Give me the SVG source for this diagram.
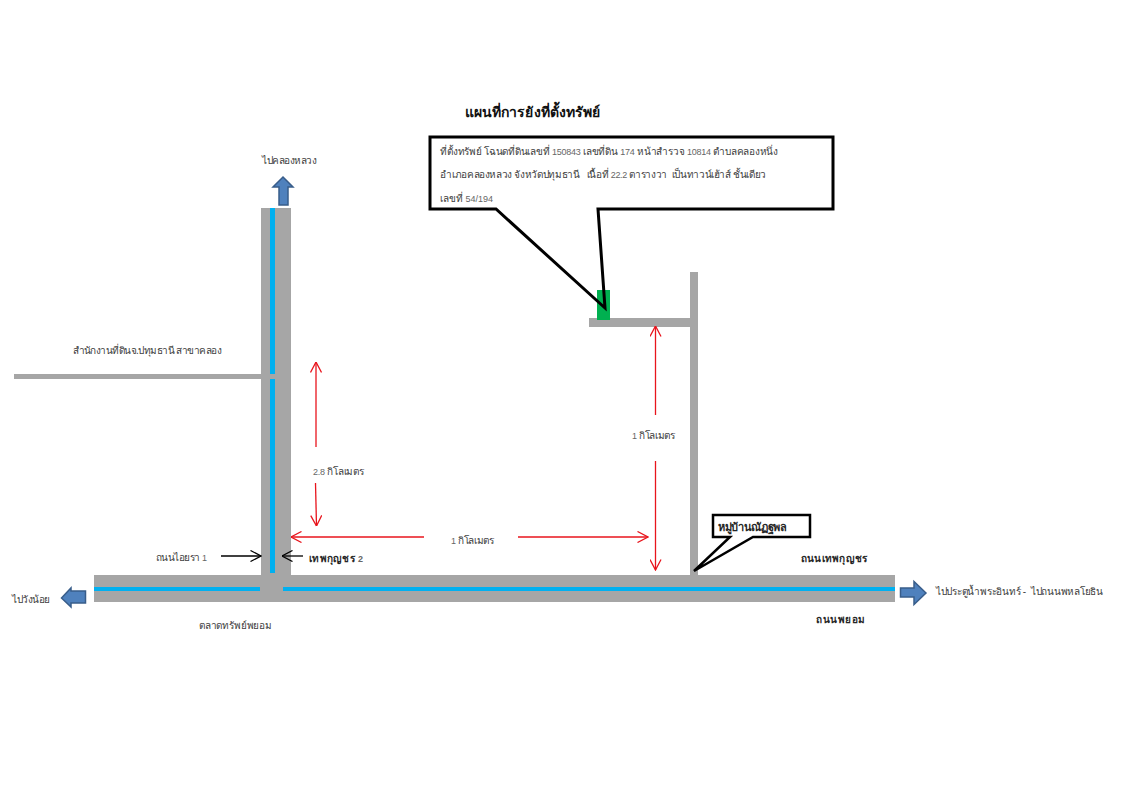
<svg xmlns="http://www.w3.org/2000/svg" width="1132" height="800" viewBox="0 0 1132 800">
<style>
text{font-family:"Liberation Sans","Noto Sans",sans-serif;font-size:10px;fill:#404040}
.b{font-weight:bold;fill:#262626}
.n{font-size:9px;fill:#666}
.t{font-family:"Liberation Serif","Noto Sans",serif;font-size:14px;font-weight:bold;fill:#111}
.road{fill:#a6a6a6}
.water{fill:#00b0f0}
.dir{fill:#4f81bd;stroke:#385d8a;stroke-width:1.5}
.callfill{fill:#fff}
.call{fill:none;stroke:#000;stroke-width:3;stroke-linejoin:miter}
.red{fill:none;stroke:#e8141c;stroke-width:1.3;marker-end:url(#rh)}
.blk{fill:none;stroke:#000;stroke-width:1.3;marker-end:url(#kh)}
</style>
<defs>
<marker id="rh" viewBox="0 0 12 12" refX="11.500" refY="6" markerWidth="12" markerHeight="12" markerUnits="userSpaceOnUse" orient="auto"><path d="M1 .5L11.500 6L1 11.500" fill="none" stroke="#e8141c" stroke-width="1.300"/></marker>
<marker id="kh" viewBox="0 0 12 12" refX="11.500" refY="6" markerWidth="12" markerHeight="12" markerUnits="userSpaceOnUse" orient="auto"><path d="M1 .5L11.500 6L1 11.500" fill="none" stroke="#000" stroke-width="1.300"/></marker>
<path id="bubble" d="M430 137H833V209H598L605 308L496 209H430Z"/>
</defs>
<g id="roads">
<rect class="road" x="261" y="208" width="30" height="368"/>
<rect class="road" x="94" y="575" width="801" height="27"/>
<rect class="road" x="14" y="374" width="248" height="5"/>
<rect class="road" x="690" y="272" width="8" height="304"/>
<rect class="road" x="589" y="318" width="102" height="9"/>
<rect class="water" x="270" y="208" width="5" height="166"/>
<rect class="water" x="270" y="379" width="5" height="194"/>
<rect class="water" x="94" y="587" width="166" height="4"/>
<rect class="water" x="283" y="587" width="612" height="4"/>
</g>
<g id="direction-arrows">
<path class="dir" d="M283 177L293 187H288V205H279V187H273Z"/>
<path class="dir" d="M61.500 598L71 588V591H85.500V603H71V607Z"/>
<path class="dir" d="M926 593L914 581.500V588H900.500V597H914V604.500Z"/>
</g>
<g id="connectors">
<path class="red" d="M316 447V362"/>
<path class="red" d="M315.500 483L316.500 526"/>
<path class="red" d="M424 537H291"/>
<path class="red" d="M518 537H648"/>
<path class="red" d="M655.500 415V326"/>
<path class="red" d="M655.500 461V570"/>
<path class="blk" d="M221 556H261"/>
<path class="blk" d="M303 556H282"/>
</g>
<g id="callout-property">
<use href="#bubble" class="callfill"/>
<rect id="property" x="597" y="290" width="13" height="30" fill="#00b050"/>
<use href="#bubble" class="call"/>
<text x="440" y="155" textLength="338">ที่ตั้งทรัพย์ โฉนดที่ดินเลขที่ <tspan class="n">150843</tspan> เลขที่ดิน <tspan class="n">174</tspan> หน้าสำรวจ <tspan class="n">10814</tspan> ตำบลคลองหนึ่ง</text>
<text x="440" y="178" textLength="326">อำเภอคลองหลวง จังหวัดปทุมธานี&#160;&#160; เนื้อที่ <tspan class="n">22.2</tspan> ตารางวา&#160; เป็นทาวน์เฮ้าส์ ชั้นเดียว</text>
<text x="440" y="202" textLength="53">เลขที่ <tspan class="n">54/194</tspan></text>
</g>
<g id="callout-village">
<path class="callfill" d="M713 515H810V537H753L694 571L730 537H713Z"/>
<path class="call" style="stroke-width:2.500" d="M713 515H810V537H753L694 571L730 537H713Z"/>
<text class="b" x="718" y="531" style="font-size:11px" textLength="69">หมู่บ้านณัฏฐพล</text>
</g>
<g id="labels">
<text class="t" x="465" y="117" textLength="135">แผนที่การยังที่ตั้งทรัพย์</text>
<text x="262" y="164" textLength="55">ไปคลองหลวง</text>
<text x="72" y="354" textLength="149">สำนักงานที่ดินจ.ปทุมธานี สาขาคลอง</text>
<text x="313" y="475" textLength="51"><tspan class="n">2.8</tspan> กิโลเมตร</text>
<text x="632" y="439" textLength="43"><tspan class="n">1</tspan> กิโลเมตร</text>
<text x="451" y="544" textLength="43"><tspan class="n">1</tspan> กิโลเมตร</text>
<text x="156" y="561" textLength="51">ถนนไอยรา <tspan class="n">1</tspan></text>
<text class="b" x="309" y="562" textLength="54">เทพกุญชร <tspan class="n">2</tspan></text>
<text class="b" x="801" y="562" textLength="66">ถนนเทพกุญชร</text>
<text class="b" x="816" y="623" textLength="49">ถนนพยอม</text>
<text x="12" y="603" textLength="38">ไปวังน้อย</text>
<text x="199" y="629" textLength="73">ตลาดทรัพย์พยอม</text>
<text x="936" y="595" textLength="167">ไปประตูน้ำพระอินทร์ -&#160; ไปถนนพหลโยธิน</text>
</g>
</svg>
